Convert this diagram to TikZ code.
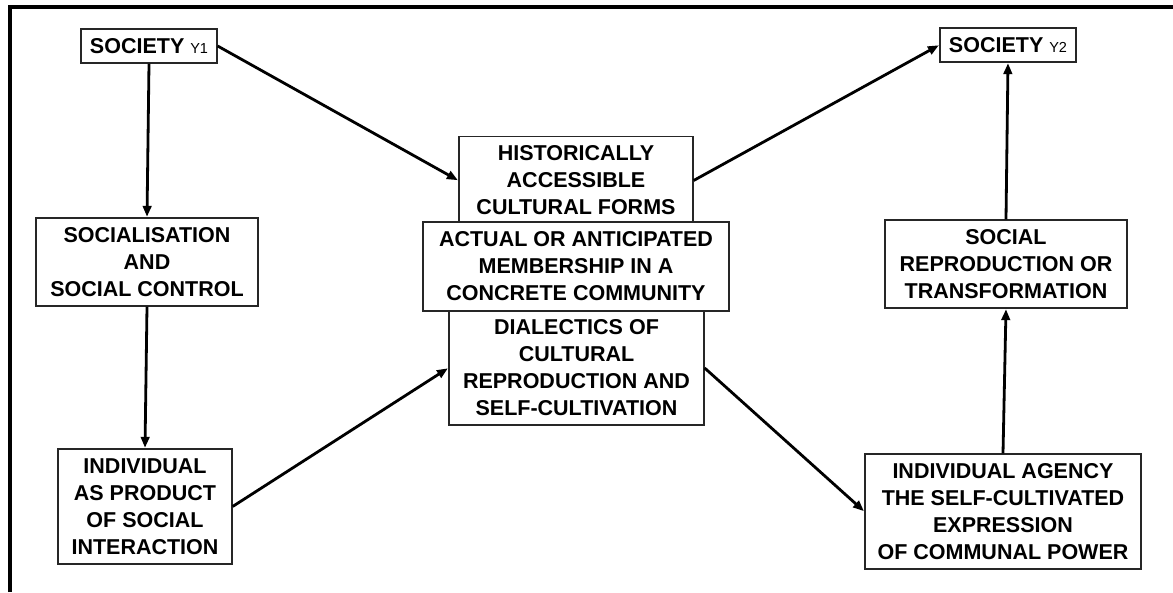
\documentclass[tikz,border=0pt]{standalone}
\usepackage{fontspec}
\setmainfont{Liberation Sans}
\usetikzlibrary{arrows.meta}
\begin{document}
\begin{tikzpicture}[x=1pt,y=-1pt,
  box/.style={draw=black!85,line width=1.3pt,fill=white,inner sep=0pt,align=center,
    font=\fontsize{21.5}{27}\selectfont\bfseries},
  flow/.style={line width=2.8pt,-{Triangle[length=11pt,width=8.5pt]},shorten >=0.5pt}]
\useasboundingbox (0,0) rectangle (1173,592);

% frame (top and left edges)
\draw[line width=3.6pt] (10,592) -- (10,7) -- (1173,7);

% left column
\node[box,minimum width=136pt,minimum height=34pt] (y1) at (149,46)
  {SOCIETY {\fontsize{14.5}{14.5}\mdseries\selectfont Y1}};
\node[box,minimum width=222pt,minimum height=88pt] (soc) at (147,262)
  {SOCIALISATION\\AND\\SOCIAL CONTROL};
\node[box,minimum width=174pt,minimum height=115pt] (indiv) at (145,506.5)
  {INDIVIDUAL\\AS PRODUCT\\OF SOCIAL\\INTERACTION};

% central stack
\node[box,minimum width=234pt,minimum height=88pt] (hist) at (576,180.5)
  {HISTORICALLY\\ACCESSIBLE\\CULTURAL FORMS};
\node[box,minimum width=306pt,minimum height=89pt] (act) at (576,266.5)
  {ACTUAL OR ANTICIPATED\\MEMBERSHIP IN A\\CONCRETE COMMUNITY};
\node[box,minimum width=255pt,minimum height=114pt] (dial) at (576.5,368)
  {DIALECTICS OF\\CULTURAL\\REPRODUCTION AND\\SELF-CULTIVATION};

% right column
\node[box,minimum width=136pt,minimum height=34pt] (y2) at (1008,45)
  {SOCIETY {\fontsize{14.5}{14.5}\mdseries\selectfont Y2}};
\node[box,minimum width=242pt,minimum height=88pt] (repro) at (1006,264)
  {SOCIAL\\REPRODUCTION OR\\TRANSFORMATION};
\node[box,minimum width=276pt,minimum height=115pt] (agency) at (1003,511.5)
  {INDIVIDUAL AGENCY\\THE SELF-CULTIVATED\\EXPRESSION\\OF COMMUNAL POWER};

% connectors
\draw[flow] (y1.south) -- (soc.north);
\draw[flow] (soc.south) -- (indiv.north);
\draw[flow] (y1.east) -- (hist.west);
\draw[flow] (indiv.east) -- (dial.west);
\draw[flow] (hist.east) -- (y2.west);
\draw[flow] (dial.east) -- (agency.west);
\draw[flow] (agency.north) -- (repro.south);
\draw[flow] (repro.north) -- (y2.south);
\end{tikzpicture}
\end{document}
